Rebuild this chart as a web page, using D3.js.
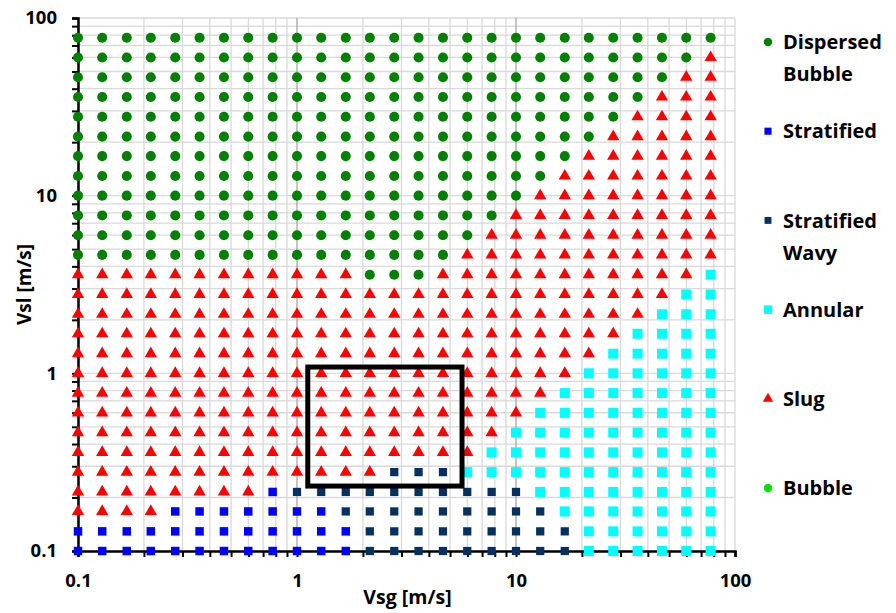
<!DOCTYPE html>
<html>
<head>
<meta charset="utf-8">
<script src="https://cdn.jsdelivr.net/npm/d3@7"></script>
<style>
  body { margin: 0; background: #fff; }
  text { font-family: "Open Sans", Lato, sans-serif; font-weight: 700; fill: #000; }
</style>
</head>
<body>
<svg id="FlowMap"></svg>
<script>
// Grid of superficial gas velocities (columns) [m/s]
const vsgValues = [0.1, 0.129, 0.167, 0.215, 0.278, 0.359, 0.464, 0.599, 0.774,
    1.0, 1.29, 1.67, 2.15, 2.78, 3.59, 4.64, 5.99, 7.74,
    10, 12.9, 16.7, 21.5, 27.8, 35.9, 46.4, 59.9, 77.4];

// Grid of superficial liquid velocities (rows, top to bottom) [m/s]
const vslValues = [77.4, 59.9, 46.4, 35.9, 27.8, 21.5, 16.7, 12.9, 10,
    7.74, 5.99, 4.64, 3.59, 2.78, 2.15, 1.67, 1.29, 1.0,
    0.774, 0.599, 0.464, 0.359, 0.278, 0.215, 0.167, 0.129, 0.1];

// Flow pattern of each row, run-length coded along the Vsg columns
// D = Dispersed Bubble, S = Stratified, W = Stratified Wavy, A = Annular, L = Slug
const patternRows = [
    [['D', 27]],
    [['D', 26], ['L', 1]],
    [['D', 25], ['L', 2]],
    [['D', 24], ['L', 3]],
    [['D', 23], ['L', 4]],
    [['D', 22], ['L', 5]],
    [['D', 21], ['L', 6]],
    [['D', 20], ['L', 7]],
    [['D', 19], ['L', 8]],
    [['D', 18], ['L', 9]],
    [['D', 17], ['L', 10]],
    [['D', 16], ['L', 11]],
    [['L', 12], ['D', 3], ['L', 11], ['A', 1]],
    [['L', 25], ['A', 2]],
    [['L', 24], ['A', 3]],
    [['L', 23], ['A', 4]],
    [['L', 22], ['A', 5]],
    [['L', 21], ['A', 6]],
    [['L', 20], ['A', 7]],
    [['L', 19], ['A', 8]],
    [['L', 18], ['A', 9]],
    [['L', 17], ['A', 10]],
    [['L', 13], ['W', 3], ['A', 11]],
    [['L', 8], ['S', 1], ['W', 10], ['A', 8]],
    [['L', 4], ['S', 7], ['W', 9], ['A', 7]],
    [['S', 12], ['W', 9], ['A', 6]],
    [['S', 12], ['W', 9], ['A', 6]]
];

// Legend entries (label lines)
const legendCodes = ['D', 'S', 'W', 'A', 'L', 'B'];
const legendLabels = [['Dispersed', 'Bubble'], ['Stratified'], ['Stratified', 'Wavy'], ['Annular'], ['Slug'], ['Bubble']];

// Highlighted operating window [Vsg min, Vsg max], [Vsl min, Vsl max]
const boxVsg = [1.12, 5.67];
const boxVsl = [0.232, 1.085];

// Axis tick labels
const majorTicks = [0.1, 1, 10, 100];

// Marker styles
const styles = {
    D: { shape: d3.symbolCircle, size: 80, color: '#008000' },
    S: { shape: d3.symbolSquare, size: 72, color: '#0000ff' },
    W: { shape: d3.symbolSquare, size: 68, color: '#06305f' },
    A: { shape: d3.symbolSquare, size: 100, color: '#00ffff' },
    L: { shape: d3.symbolTriangle, size: 66, color: '#ff0000' },
    B: { shape: d3.symbolCircle, size: 80, color: '#00e000' }
};

// SVG dimensions
let width = 896, height = 613;
let plotLeft = 78, plotRight = 735, plotTop = 18, plotBottom = 551;

let svg = d3.select('#FlowMap').attr('width', width).attr('height', height);

let xScale = d3.scaleLog().domain([0.1, 100]).range([plotLeft, plotRight]);
let yScale = d3.scaleLog().domain([0.1, 100]).range([plotBottom, plotTop]);

// Gridlines
function drawGrid() {
    let g = svg.append('g');
    g.selectAll('.hgrid')
        .data(yScale.ticks())
        .enter()
        .append('line')
        .attr('x1', plotLeft).attr('x2', plotRight)
        .attr('y1', (d) => yScale(d)).attr('y2', (d) => yScale(d))
        .attr('stroke', '#d9d9d9')
        .attr('stroke-width', 1.3);

    g.selectAll('.vgrid')
        .data(xScale.ticks())
        .enter()
        .append('line')
        .attr('y1', plotTop).attr('y2', plotBottom)
        .attr('x1', (d) => xScale(d)).attr('x2', (d) => xScale(d))
        .attr('stroke', (d) => (d === 1 || d === 10) ? '#a6a6a6' : '#d9d9d9')
        .attr('stroke-width', 1.3);
}

// Axes
function drawAxes() {
    let fmt = (d) => majorTicks.includes(d) ? String(d) : '';

    let xAxis = d3.axisBottom(xScale).tickValues(xScale.ticks()).tickFormat(fmt)
        .tickSize(6).tickPadding(17);
    let xg = svg.append('g')
        .attr('transform', `translate(0, ${plotBottom})`)
        .call(xAxis);

    let yAxis = d3.axisLeft(yScale).tickValues(yScale.ticks()).tickFormat(fmt)
        .tickSize(6).tickPadding(15);
    let yg = svg.append('g')
        .attr('transform', `translate(${plotLeft}, 0)`)
        .call(yAxis);

    [xg, yg].forEach((g) => {
        g.select('.domain').attr('stroke', '#000').attr('stroke-width', 2.5);
        g.selectAll('.tick line').attr('stroke', '#000').attr('stroke-width', 2);
        g.selectAll('.tick text')
            .style('font-family', '"Open Sans", sans-serif')
            .style('font-weight', 700)
            .style('font-size', '18.5px')
            .attr('fill', '#000');
    });

    svg.append('text')
        .attr('x', (plotLeft + plotRight) / 2 + 1)
        .attr('y', 604)
        .attr('text-anchor', 'middle')
        .style('font-size', '19.5px')
        .text('Vsg [m/s]');

    svg.append('text')
        .attr('transform', `translate(31, ${(plotTop + plotBottom) / 2}) rotate(-90)`)
        .attr('text-anchor', 'middle')
        .style('font-size', '19px')
        .text('Vsl [m/s]');
}

// Flow pattern points
function drawPoints() {
    let points = [];
    patternRows.forEach((row, r) => {
        let c = 0;
        row.forEach(([code, count]) => {
            for (let k = 0; k < count; k++) {
                points.push({ vsg: vsgValues[c], vsl: vslValues[r], code: code });
                c++;
            }
        });
    });

    svg.append('g')
        .selectAll('path')
        .data(points)
        .enter()
        .append('path')
        .attr('d', (d) => d3.symbol().type(styles[d.code].shape).size(styles[d.code].size)())
        .attr('transform', (d) => `translate(${xScale(d.vsg)}, ${yScale(d.vsl)})`)
        .attr('fill', (d) => styles[d.code].color);
}

// Operating window box
function drawBox() {
    svg.append('rect')
        .attr('x', xScale(boxVsg[0]))
        .attr('y', yScale(boxVsl[1]))
        .attr('width', xScale(boxVsg[1]) - xScale(boxVsg[0]))
        .attr('height', yScale(boxVsl[0]) - yScale(boxVsl[1]))
        .attr('fill', 'none')
        .attr('stroke', '#000')
        .attr('stroke-width', 5);
}

// Legend
function drawLegend() {
    let lg = svg.append('g');
    legendCodes.forEach((code, i) => {
        let cy = 42 + i * 89.2;
        lg.append('path')
            .attr('d', d3.symbol().type(styles[code].shape).size(styles[code].size * 0.7)())
            .attr('transform', `translate(768, ${cy})`)
            .attr('fill', styles[code].color);
        legendLabels[i].forEach((line, k) => {
            lg.append('text')
                .attr('x', 783)
                .attr('y', cy + k * 32)
                .attr('dy', '0.36em')
                .style('font-size', '20px')
                .text(line);
        });
    });
}

drawGrid();
drawAxes();
drawPoints();
drawBox();
drawLegend();
</script>
</body>
</html>
